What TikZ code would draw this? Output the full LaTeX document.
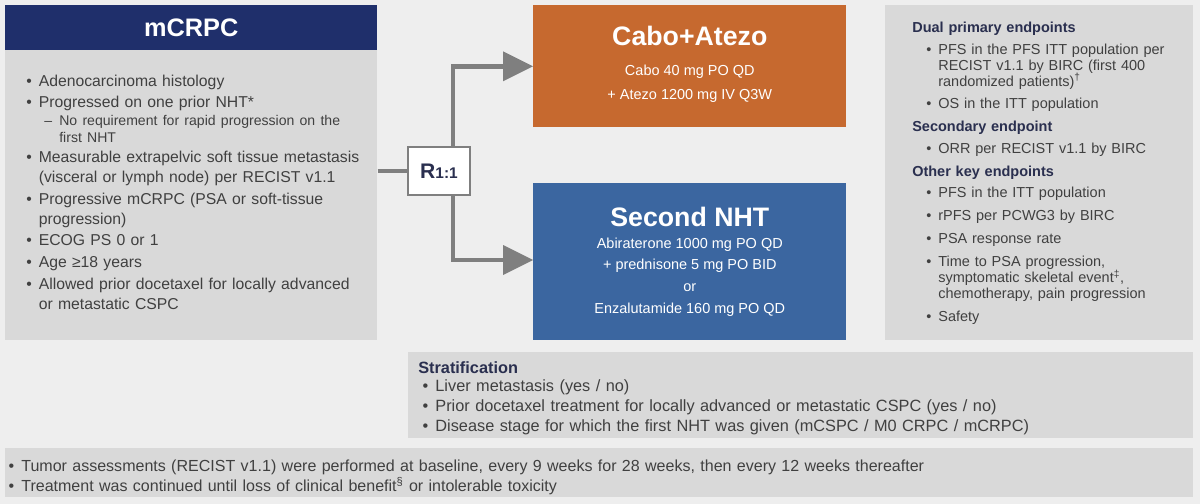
\documentclass[tikz,border=0pt]{standalone}
\usepackage{fontspec}
\setmainfont{Liberation Sans}
\usepackage{enumitem}
\usetikzlibrary{positioning, calc}
\definecolor{navy}{HTML}{1F2F6B}
\definecolor{panel}{HTML}{D9D9D9}
\definecolor{bg}{HTML}{EEEEEE}
\definecolor{cabo}{HTML}{C6692F}
\definecolor{nht}{HTML}{3B66A0}
\definecolor{txt}{HTML}{404040}
\definecolor{head}{HTML}{2A2F4F}
\definecolor{arr}{HTML}{7F7F7F}
\newcommand{\blist}[2][1.05em]{\begin{itemize}[leftmargin=#1,itemsep=0pt,topsep=0pt,parsep=0pt,partopsep=0pt,label=\textbullet]#2\end{itemize}}
\tikzset{
  box/.style={fill=panel, inner sep=0pt, anchor=north west},
  body/.style={anchor=north west, text=txt, align=left, inner sep=0pt},
  link/.style={draw=arr, line width=3.5pt},
}
\begin{document}
\begin{tikzpicture}[x=0.025cm, y=-0.025cm]
   % background
   \fill[bg] (0,0) rectangle (1200,504);
   \useasboundingbox (0,0) rectangle (1200,504);
   % patient panel
   \node[box, fill=navy, minimum width=372*0.025cm, minimum height=45*0.025cm] (hd) at (5,5) {};
   \node[text=white, font=\fontsize{18}{20}\selectfont\bfseries] at (hd.center) {mCRPC};
   \node[box, minimum width=372*0.025cm, minimum height=290*0.025cm] (pt) at (5,50) {};
   \node[body, text width=345*0.025cm, font=\fontsize{11.2}{14.2}\selectfont] (ptx) at (22,66) {\blist{
     \item Adenocarcinoma histology\vspace{1.2pt}
     \item Progressed on one prior NHT*
       \begin{itemize}[leftmargin=1.3em,itemsep=0pt,topsep=0pt,parsep=0pt,label=--]\fontsize{10}{12.4}\selectfont
       \item No requirement for rapid progression on the first NHT\end{itemize}
     \item Measurable extrapelvic soft tissue metastasis (visceral or lymph node) per RECIST v1.1\vspace{1.2pt}
     \item Progressive mCRPC (PSA or soft-tissue progression)\vspace{1.2pt}
     \item ECOG PS 0 or 1\vspace{1.2pt}
     \item Age ≥18 years\vspace{1.2pt}
     \item Allowed prior docetaxel for locally advanced or metastatic CSPC}};
   % arms
   \node[box, fill=cabo, minimum width=313*0.025cm, minimum height=122*0.025cm] (ca) at (533,5) {};
   \node[text=white, align=center, font=\fontsize{10.3}{17}\selectfont] at ($(ca.center)+(0,-2)$)
     {{\fontsize{19}{24}\selectfont\bfseries Cabo+Atezo}\\[4pt]Cabo 40 mg PO QD\\+ Atezo 1200 mg IV Q3W};
   \node[box, fill=nht, minimum width=313*0.025cm, minimum height=157*0.025cm] (sn) at (533,183) {};
   \node[text=white, align=center, font=\fontsize{10.3}{15.6}\selectfont] at (sn.center)
     {{\fontsize{19}{24}\selectfont\bfseries Second NHT}\\Abiraterone 1000 mg PO QD\\+ prednisone 5 mg PO BID\\or\\Enzalutamide 160 mg PO QD};
   % randomisation
   \node[draw=arr, line width=1.5pt, fill=white, minimum width=62*0.025cm, minimum height=48*0.025cm, text=head,
     font=\fontsize{15}{17}\selectfont\bfseries] (rn) at (439,171) {R{\fontsize{11}{12}\selectfont 1:1}};
   \draw[link] (pt.east |- rn) -- (rn.west);
   \draw[link] ($(rn.north)+(14,0)$) |- ($(ca.west)+(-25,0)$);
   \draw[link] ($(rn.south)+(14,0)$) |- ($(sn.west |- 0,260)+(-25,0)$);
   \fill[arr] ($(ca.west)+(-30,-15)$) -- (ca.west) -- ($(ca.west)+(-30,15)$) -- cycle;
   \fill[arr] (503,245) -- (533,260) -- (503,275) -- cycle;
   % endpoints
   \node[box, minimum width=308*0.025cm, minimum height=335*0.025cm] (ep) at (885,5) {};
   \node[body, text width=256*0.025cm, font=\fontsize{10.3}{11.3}\selectfont] (epx) at (912,22) {%
     {\bfseries\color{head}Dual primary endpoints}\par\vspace{4pt}
     \blist[1.8em]{\item PFS in the PFS ITT population per RECIST v1.1 by BIRC (first 400 randomized patients)\textsuperscript{†}\vspace{5pt}
       \item OS in the ITT population}\vspace{5pt}
     {\bfseries\color{head}Secondary endpoint}\par\vspace{4pt}
     \blist[1.8em]{\item ORR per RECIST v1.1 by BIRC}\vspace{5pt}
     {\bfseries\color{head}Other key endpoints}\par\vspace{4pt}
     \blist[1.8em]{\item PFS in the ITT population\vspace{5pt}
       \item rPFS per PCWG3 by BIRC\vspace{5pt}
       \item PSA response rate\vspace{5pt}
       \item Time to PSA progression,\\ symptomatic skeletal event\textsuperscript{‡}, chemotherapy, pain progression\vspace{5pt}
       \item Safety}};
   % stratification
   \node[box, minimum width=785*0.025cm, minimum height=86*0.025cm] (st) at (408,352) {};
   \node[body, text width=760*0.025cm, font=\fontsize{11.6}{14.2}\selectfont] (stx) at (418,361) {%
     {\bfseries\color{head}Stratification}\par\vspace{-1pt}
     \blist{\item Liver metastasis (yes / no)
       \item Prior docetaxel treatment for locally advanced or metastatic CSPC (yes / no)
       \item Disease stage for which the first NHT was given (mCSPC / M0 CRPC / mCRPC)}};
   % footer
   \node[box, minimum width=1188*0.025cm, minimum height=49*0.025cm] (ft) at (5,448) {};
   \node[body, text width=1160*0.025cm, font=\fontsize{11.4}{14.2}\selectfont] (ftx) at (9,451) {%
     \blist[0.75em]{\item Tumor assessments (RECIST v1.1) were performed at baseline, every 9 weeks for 28 weeks, then every 12 weeks thereafter
       \item Treatment was continued until loss of clinical benefit\textsuperscript{§} or intolerable toxicity}};
\end{tikzpicture}
\end{document}
